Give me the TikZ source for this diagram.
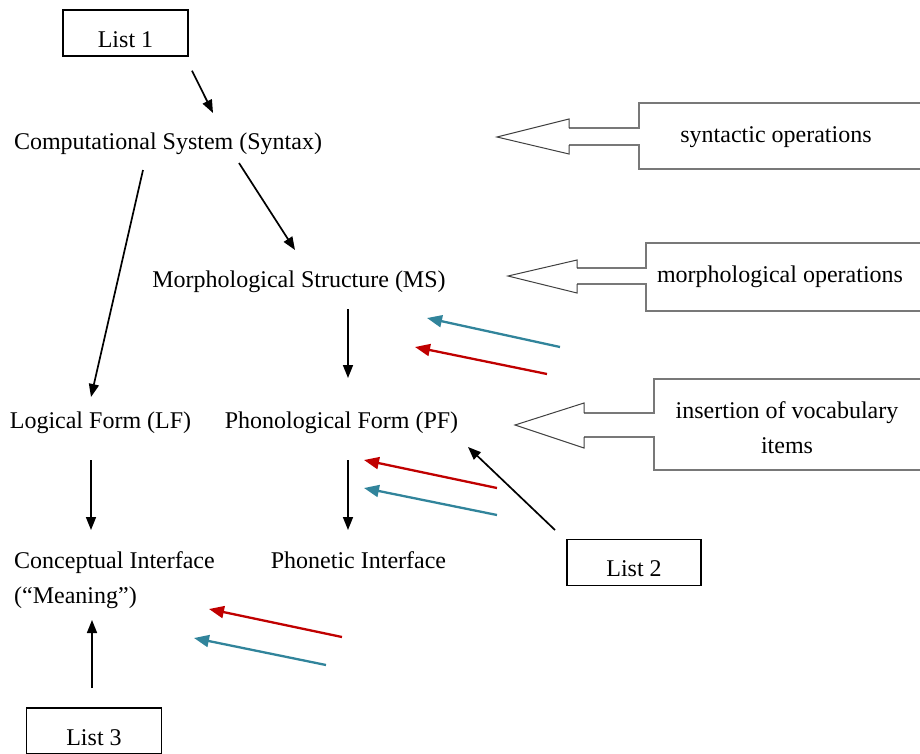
\documentclass[tikz,border=0pt]{standalone}
\usepackage{fontspec}
\setmainfont{Liberation Serif}
\usetikzlibrary{arrows.meta}
\definecolor{tealarrow}{RGB}{49,132,155}
\definecolor{redarrow}{RGB}{192,0,0}
\definecolor{panelgray}{RGB}{120,120,120}
\begin{document}
\begin{tikzpicture}[x=1pt,y=-1pt,
  lbl/.style={inner sep=0pt, font=\fontsize{24}{35}\selectfont, anchor=base},
  listbox/.style={draw, line width=1.3pt, inner sep=0pt, minimum height=46pt,
    text height=28pt, text depth=0pt, font=\fontsize{24}{30}\selectfont},
  flow/.style={line width=1.7pt, -{Triangle[length=13pt,width=10pt]}},
  feed/.style={line width=2.3pt, -{Triangle[length=15pt,width=12pt]}},
  panel/.style={draw=panelgray, line width=1.6pt},
  hollowhead/.style={draw=black!75, line width=1pt},
]
\useasboundingbox (0,0) rectangle (920,753);

% lexical lists
\node[listbox, minimum width=125pt] (l1) at (125.5,33) {List 1};
\node[listbox, minimum width=134pt] (l2) at (634,562.5) {List 2};
\node[listbox, minimum width=135pt] (l3) at (94,731) {List 3};

% levels of the grammar
\node[lbl] (cs) at (168,149) {Computational System (Syntax)};
\node[lbl] (ms) at (299,287) {Morphological Structure (MS)};
\node[lbl] (lf) at (100.5,428) {Logical Form (LF)};
\node[lbl] (pf) at (341.5,428) {Phonological Form (PF)};
\node[lbl, anchor=base west, align=left] (ci) at (14,603) {Conceptual Interface\\(“Meaning”)};
\node[lbl] (phi) at (358.5,568) {Phonetic Interface};

% derivation
\draw[flow] ([shift={(66.5,14)}]l1.south) -- ([shift={(45,-36)}]cs.base);
\draw[flow] ([shift={(-25,21)}]cs.base) -- ([shift={(-9.5,-31)}]lf.base);
\draw[flow] ([shift={(71,14)}]cs.base) -- ([shift={(-4,-37)}]ms.base);
\draw[flow] ([shift={(49,22)}]ms.base) -- ([shift={(6.5,-50)}]pf.base);
\draw[flow] ([shift={(-9.5,32)}]lf.base) -- ([shift={(77,-73)}]ci.base west);
\draw[flow] ([shift={(6.5,32)}]pf.base) -- ([shift={(-10.5,-38)}]phi.base);
\draw[flow] ([shift={(-2,-43)}]l3.center) -- ([shift={(78,17)}]ci.base west);
\draw[flow] ([shift={(-79,-32.5)}]l2.center) -- ([shift={(126.5,19)}]pf.base);

% coloured feedback arrows
\coordinate (ta) at (560,347); \coordinate (tb) at (427,318);
\coordinate (ra) at (547,374); \coordinate (rb) at (415,347);
\coordinate (rc) at (497,488); \coordinate (rd) at (364,460);
\coordinate (tc) at (497,515); \coordinate (td) at (364,488);
\coordinate (re) at (342,637); \coordinate (rf) at (209,609);
\coordinate (te) at (326,665); \coordinate (tf) at (194,638);
\draw[feed, tealarrow] (ta) -- (tb);
\draw[feed, redarrow] (ra) -- (rb);
\draw[feed, redarrow] (rc) -- (rd);
\draw[feed, tealarrow] (tc) -- (td);
\draw[feed, redarrow] (re) -- (rf);
\draw[feed, tealarrow] (te) -- (tf);

% operation panels with hollow block arrows
% syntactic operations
\draw[panel] (925,103) -- (639,103) -- (639,128) -- (569,128);
\draw[panel] (569,145) -- (639,145) -- (639,169) -- (925,169);
\draw[hollowhead] (569,128) -- (569,119) -- (497,137) -- (569,154) -- (569,145);
\node[lbl] (synop) at (776,142) {syntactic operations};

% morphological operations
\draw[panel] (925,243) -- (646,243) -- (646,268) -- (577,268);
\draw[panel] (577,284) -- (646,284) -- (646,311) -- (925,311);
\draw[hollowhead] (577,268) -- (577,260) -- (508,276) -- (577,293) -- (577,284);
\node[lbl] (morop) at (780,282) {morphological operations};

% insertion of vocabulary items
\draw[panel] (925,379) -- (654,379) -- (654,413) -- (584,413);
\draw[panel] (584,437) -- (654,437) -- (654,470) -- (925,470);
\draw[hollowhead] (584,413) -- (584,403) -- (515,425) -- (584,448) -- (584,437);
\node[lbl, align=center] (insop) at (787,453) {insertion of vocabulary\\items};
\end{tikzpicture}
\end{document}
